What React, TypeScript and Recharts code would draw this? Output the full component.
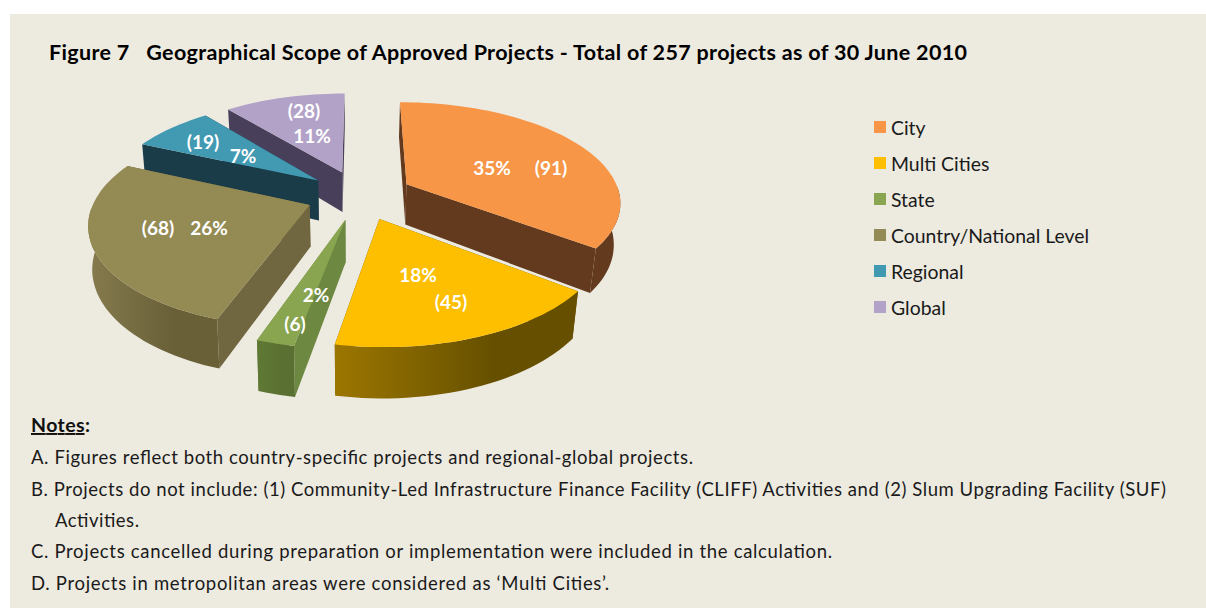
import React from "react";
import { PieChart, Pie, Legend } from "recharts";

const categories = ["City", "Multi Cities", "State", "Country/National Level", "Regional", "Global"];
const projects = [91, 45, 6, 68, 19, 28];
const total = 257;

const topColors = ["#f79646", "#fdbf00", "#8aa54f", "#948a54", "#4299b2", "#b2a2c7"];
const radialWallColors = ["#633a1d", "#665000", "#6d8840", "#70663f", "#1a3c49", "#48405a"];
const outerWallFrom = ["#633a1d", "#9c7600", "#5f7a35", "#857b4e", "#1a3c49", "#48405a"];
const outerWallTo = ["#633a1d", "#665000", "#5a7032", "#6a6038", "#1a3c49", "#48405a"];

// painter's order: slices nearer the viewer have to be drawn after the ones behind
const drawOrder = [0, 5, 4, 3, 2, 1];
const pieData = drawOrder.map((i) => ({
  name: categories[i],
  value: projects[i],
  fill: topColors[i],
  sourceIndex: i,
}));

// where the first drawn slice (City) starts, going counter-clockwise
const cityAngle = (projects[0] / total) * 360;
const startAngle = 90 - cityAngle;

const CX = 359.5;
const CY = 195;
const RADIUS = 213.5;
const SQUASH = 0.462;
const PERSPECTIVE = 0.1625;
const EXPLODE = 0.25;
const DEPTH = 41;

const rad = (d: number) => (d * Math.PI) / 180;

function project(x: number, z: number, cx: number, cy: number) {
  const s = 1 / (1 + (PERSPECTIVE * z) / RADIUS);
  return { x: cx + x * s, y: cy - z * SQUASH * s, s };
}

function lower(p: { x: number; y: number; s: number }, cx: number) {
  const shrink = p.x < cx ? 0.985 : 0.975;
  return { x: cx + (p.x - cx) * shrink, y: p.y + DEPTH * p.s };
}

const toPath = (pts: { x: number; y: number }[]) =>
  pts.map((p, i) => `${i ? "L" : "M"}${p.x.toFixed(1)} ${p.y.toFixed(1)}`).join(" ") + " Z";

function Slice3D(props: any) {
  const { cx, cy, outerRadius, startAngle: a0, endAngle: a1, index } = props;
  const idx = pieData[index].sourceIndex;
  const mid = (a0 + a1) / 2;
  const ox = EXPLODE * outerRadius * Math.cos(rad(mid));
  const oz = EXPLODE * outerRadius * Math.sin(rad(mid));

  const apex = project(ox, oz, cx, cy);
  const arc: any[] = [];
  const steps = Math.max(4, Math.ceil(Math.abs(a1 - a0) / 2));
  for (let i = 0; i <= steps; i++) {
    const a = a0 + ((a1 - a0) * i) / steps;
    const p = project(ox + outerRadius * Math.cos(rad(a)), oz + outerRadius * Math.sin(rad(a)), cx, cy);
    arc.push({ ...p, front: Math.sin(rad(a)) < 0 });
  }

  const frontArc = arc.filter((p) => p.front);
  const outerWall = frontArc.length > 1 ? [...frontArc, ...frontArc.slice().reverse().map((p) => lower(p, cx))] : null;
  const first = arc[0];
  const last = arc[arc.length - 1];
  const wallA = [apex, first, lower(first, cx), lower(apex, cx)];
  const wallB = [apex, last, lower(last, cx), lower(apex, cx)];
  const gradId = `wall-${idx}`;

  return (
    <g>
      <defs>
        <linearGradient id={gradId} x1="0" y1="0" x2="1" y2="0">
          <stop offset="0%" stopColor={outerWallFrom[idx]} />
          <stop offset="65%" stopColor={outerWallTo[idx]} />
        </linearGradient>
      </defs>
      <path d={toPath(wallA)} fill={radialWallColors[idx]} />
      <path d={toPath(wallB)} fill={radialWallColors[idx]} />
      {outerWall && <path d={toPath(outerWall)} fill={`url(#${gradId})`} />}
      <path d={toPath([apex, ...arc])} fill={topColors[idx]} />
    </g>
  );
}

// label text spots by category, [first piece, second piece]
const labelSpots: Record<string, number[][]> = {
  City: [[492, 167], [551, 167]],
  "Multi Cities": [[418, 274], [451, 301]],
  State: [[316, 294], [295, 323]],
  "Country/National Level": [[158, 227], [209, 227]],
  Regional: [[203, 141], [243, 155]],
  Global: [[304, 110], [312, 135]],
};
const percentFirst = ["City", "Multi Cities", "State"];

function SliceLabel(props: any) {
  const item = pieData[props.index];
  const pct = `${Math.round((item.value / total) * 100)}%`;
  const count = `(${item.value})`;
  const texts = percentFirst.includes(item.name) ? [pct, count] : [count, pct];
  const spots = labelSpots[item.name];
  return (
    <g>
      {texts.map((t, i) => (
        <text
          key={t}
          x={spots[i][0]}
          y={spots[i][1]}
          textAnchor="middle"
          dominantBaseline="central"
          fill="#fff"
          fontFamily="Lato"
          fontWeight={700}
          fontSize={19}
        >
          {t}
        </text>
      ))}
    </g>
  );
}

function LegendList() {
  return (
    <div style={{ fontFamily: "Lato", fontSize: 19.4, color: "#1a1a1a" }}>
      {categories.map((c, i) => (
        <div key={c} style={{ height: 36, display: "flex", alignItems: "center" }}>
          <span style={{ width: 12, height: 12, background: topColors[i], marginRight: 5 }} />
          <span style={{ whiteSpace: "nowrap" }}>{c}</span>
        </div>
      ))}
    </div>
  );
}

const noteLines = [
  { text: "A. Figures reflect both country-specific projects and regional-global projects.", x: 31, y: 464, end: 693 },
  { text: "B. Projects do not include: (1) Community-Led Infrastructure Finance Facility (CLIFF) Activities and (2) Slum Upgrading Facility (SUF)", x: 31, y: 496, end: 1166 },
  { text: "Activities.", x: 55, y: 527, end: 139 },
  { text: "C. Projects cancelled during preparation or implementation were included in the calculation.", x: 31, y: 558, end: 832 },
  { text: "D. Projects in metropolitan areas were considered as ‘Multi Cities’.", x: 31, y: 590, end: 609 },
];

export default function App() {
  return (
    <div style={{ position: "absolute", left: 0, top: 0, width: 1206, height: 608, background: "#fff", overflow: "hidden" }}>
      <div style={{ position: "absolute", left: 10, top: 14, width: 1196, height: 594, background: "#edeae0" }} />
      <div style={{ position: "absolute", left: 0, top: 0 }}>
        <PieChart width={1206} height={608} margin={{ top: 0, right: 0, bottom: 0, left: 0 }}>
          <Pie
            data={pieData}
            dataKey="value"
            nameKey="name"
            cx={CX}
            cy={CY}
            outerRadius={RADIUS}
            startAngle={startAngle}
            endAngle={startAngle + 360}
            stroke="none"
            shape={Slice3D}
            label={SliceLabel}
            labelLine={false}
            isAnimationActive={false}
          />
          <Legend content={LegendList} wrapperStyle={{ left: 874, top: 109, width: 260, bottom: "auto" }} />
        </PieChart>
      </div>
      <svg width={1206} height={608} style={{ position: "absolute", left: 0, top: 0, pointerEvents: "none" }}>
        <text x={49} y={59.5} fontFamily="Lato" fontWeight={700} fontSize={21.5} fill="#000" textLength={918} style={{ whiteSpace: "pre" }}>
          Figure 7   Geographical Scope of Approved Projects - Total of 257 projects as of 30 June 2010
        </text>
        <text x={31} y={432} fontFamily="Lato" fontWeight={700} fontSize={19.5} fill="#111" textLength={59}>
          <tspan textDecoration="underline">Notes</tspan>:
        </text>
        {noteLines.map((n) => (
          <text key={n.text} x={n.x} y={n.y} fontFamily="Lato" fontSize={18.5} fill="#1a1a1a" textLength={n.end - n.x}>
            {n.text}
          </text>
        ))}
      </svg>
    </div>
  );
}
